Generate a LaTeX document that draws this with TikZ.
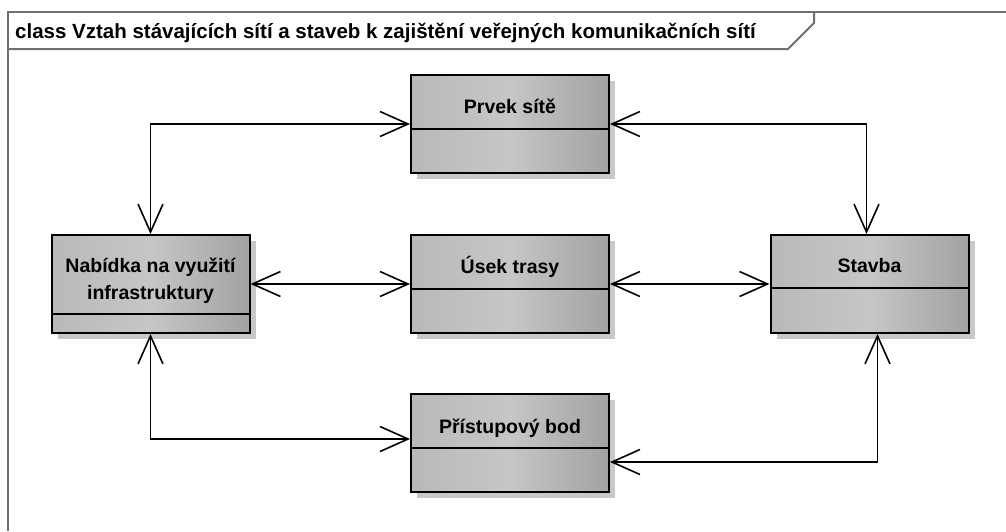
\documentclass[tikz,border=0pt]{standalone}
\usepackage{fontspec}
\setmainfont{Liberation Sans}
\usetikzlibrary{arrows.meta,shadows,calc}
\definecolor{boxleft}{HTML}{B9B9B9}
\definecolor{boxmid}{HTML}{C6C6C6}
\definecolor{boxright}{HTML}{A2A2A2}
\definecolor{shadowgray}{HTML}{C8C8C8}
\definecolor{framegray}{HTML}{707070}
\tikzset{
  classbox/.style={draw=black, line width=2pt, left color=boxleft, right color=boxright, middle color=boxmid,
    minimum width=198pt, minimum height=98pt, inner sep=0pt,
    general shadow={fill=shadowgray, shadow xshift=6pt, shadow yshift=-6pt}},
  classname/.style={font=\bfseries\fontsize{19.5}{27}\selectfont, anchor=base, inner sep=0pt, align=center},
  divider/.style={line width=2pt, black},
  assoc/.style={line width=1.6pt, {Straight Barb[length=28pt,width=25pt]}-{Straight Barb[length=28pt,width=25pt]}},
  framebox/.style={draw=framegray, line width=2pt},
}
\begin{document}
\begin{tikzpicture}[x=1pt, y=-1pt]
  \useasboundingbox (0,0) rectangle (1006,531);
  % diagram frame and its name tab
  \draw[framebox] (8,531) -- (8,12) -- (1006,12);
  \draw[framebox] (8,49) -- (788,49) -- (814,23) -- (814,12);
  \node[anchor=base west, inner sep=0pt, font=\bfseries\fontsize{20.5}{24}\selectfont] (title) at (15,38)
    {class Vztah stávajících sítí a staveb k zajištění veřejných komunikačních sítí};

  % classes
  \node[classbox] (prvek) at (510,124) {};
  \node[classbox] (usek) at (510,284) {};
  \node[classbox] (pristup) at (510,443) {};
  \node[classbox] (nabidka) at (150.5,284) {};
  \node[classbox] (stavba) at (869.5,284) {};

  % compartment dividers
  \draw[divider] ([yshift=-55pt]prvek.north west) -- ([yshift=-55pt]prvek.north east);
  \draw[divider] ([yshift=-55pt]usek.north west) -- ([yshift=-55pt]usek.north east);
  \draw[divider] ([yshift=-55pt]pristup.north west) -- ([yshift=-55pt]pristup.north east);
  \draw[divider] ([yshift=-54pt]stavba.north west) -- ([yshift=-54pt]stavba.north east);
  \draw[divider] ([yshift=-80pt]nabidka.north west) -- ([yshift=-80pt]nabidka.north east);

  % class names
  \node[classname] (prvekname) at ([yshift=-39pt]prvek.north) {Prvek sítě};
  \node[classname] (usekname) at ([yshift=-39pt]usek.north) {Úsek trasy};
  \node[classname] (pristupname) at ([yshift=-40pt]pristup.north) {Přístupový bod};
  \node[classname] (stavbaname) at ([yshift=-38pt]stavba.north) {Stavba};
  \node[classname] (nabidkaname1) at ([yshift=-38pt]nabidka.north) {Nabídka na využití};
  \node[classname] (nabidkaname2) at ([yshift=-65pt]nabidka.north) {infrastruktury};

  % associations
  \draw[assoc] (nabidka.north) |- (prvek.west);
  \draw[assoc] (prvek.east) -| ([xshift=-3pt]stavba.north);
  \draw[assoc] (nabidka.east) -- (usek.west);
  \draw[assoc] (usek.east) -- (stavba.west);
  \draw[assoc] (nabidka.south) |- ([yshift=4pt]pristup.west);
  \draw[assoc] ([yshift=-19pt]pristup.east) -| ([xshift=8pt]stavba.south);
\end{tikzpicture}
\end{document}
